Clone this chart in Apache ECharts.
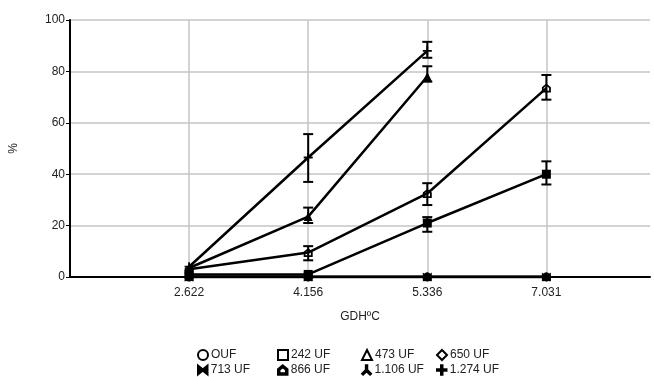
<!DOCTYPE html>
<html>
<head>
<meta charset="utf-8">
<script src="https://cdn.jsdelivr.net/npm/echarts@6/dist/echarts.min.js"></script>
<style>
  html, body { margin: 0; padding: 0; background: #fff; }
  #gdh-chart { width: 654px; height: 377px; }
</style>
</head>
<body>
<div id="gdh-chart"></div>
<script>
// categories on the x axis (placed at index 1..4)
const categories = ['2.622', '4.156', '5.336', '7.031']
const seriesNames = ['OUF', '242 UF', '473 UF', '650 UF', '713 UF', '866 UF', '1.106 UF', '1.274 UF']

// mean values per series, null = not measured
const valOUF = [0, 0, 0, 0]
const val242 = [1, 1, 21, 40]
const val473 = [3.5, 23.5, 78, null]
const val650 = [0, 0, 0, 0]
const val713 = [0, 0, 0, 0]
const val866 = [3, 9.5, 32.5, 73.5]
const val1106 = [0, 0, 0, 0]
const val1274 = [4, 46.5, 88, null]

// error bar limits [low, high] per point
const err242 = [null, null, [17.6, 23.3], [36, 45]]
const err473 = [null, [21, 27], [76, 82], null]
const err866 = [null, [6.5, 12], [28, 36.5], [69, 78.6]]
const err1274 = [null, [37, 55.6], [85.3, 91.5], null]

const yTicks = [0, 20, 40, 60, 80, 100]

const icons = {
  'OUF': 'emptyCircle',
  '242 UF': 'emptyRect',
  '473 UF': 'emptyTriangle',
  '650 UF': 'emptyDiamond',
  '713 UF': 'path://M0,0L0,10L5,6L10,10L10,0L5,4Z',
  '866 UF': 'path://M5,0L10,4L10,10L0,10L0,4ZM5,2.5L2,5L2,8L8,8L8,5Z',
  '1.106 UF': 'path://M4,0L6,0L6,5L10,9L8.6,10.4L5,7L1.4,10.4L0,9L4,5Z',
  '1.274 UF': 'path://M4,0H6V4H10V6H6V10H4V6H0V4H4Z'
}
const markers = {
  'OUF': 'circle',
  '242 UF': 'rect',
  '473 UF': 'triangle',
  '650 UF': 'diamond',
  '713 UF': icons['713 UF'],
  '866 UF': icons['866 UF'],
  '1.106 UF': icons['1.106 UF'],
  '1.274 UF': icons['1.274 UF']
}

const values = [valOUF, val242, val473, val650, val713, val866, val1106, val1274]
const errors = [err242, err473, err866, err1274]

function toPoints(arr) {
  return arr.map((v, i) => [i + 1, v])
}

const errData = []
errors.forEach(e => {
  e.forEach((r, i) => {
    if (r) errData.push([i + 1, r[0], r[1]])
  })
})

const chart = echarts.init(document.getElementById('gdh-chart'))

const lineSeries = seriesNames.map((name, k) => ({
  name: name,
  type: 'line',
  data: toPoints(values[k]),
  symbol: markers[name],
  symbolSize: 9,
  connectNulls: false,
  lineStyle: { color: '#000', width: 2.5 },
  itemStyle: { color: '#000' },
  z: 3
}))

lineSeries[0].markLine = {
  silent: true,
  symbol: 'none',
  label: { show: false },
  lineStyle: { color: '#c4c4c4', width: 1.5, type: 'solid' },
  data: categories.map((c, i) => ({ xAxis: i + 1 })),
  z: 1
}

// legend laid out as a 4 x 2 table
const legendCols = [197, 277, 361, 436]
const legendRows = [349, 364]

const legends = seriesNames.map((n, i) => ({
  data: [{ name: n, icon: icons[n] }],
  left: legendCols[i % 4],
  top: legendRows[Math.floor(i / 4)],
  itemWidth: 10,
  itemHeight: 10,
  itemGap: 0,
  padding: 0,
  selectedMode: false,
  itemStyle: { color: '#000', borderColor: '#000', borderWidth: 1.5 },
  textStyle: { color: '#222', fontSize: 12, padding: [0, 0, 0, -2] }
}))

const option = {
  animation: false,
  textStyle: { fontFamily: 'Liberation Sans, Arial, sans-serif' },
  grid: { left: 66, right: 4, top: 20, bottom: 100 },
  legend: legends,
  xAxis: {
    type: 'value',
    min: 0,
    max: 4.87,
    interval: 1,
    name: 'GDHºC',
    nameLocation: 'middle',
    nameGap: 34,
    nameTextStyle: { fontSize: 12, color: '#222' },
    axisLine: { lineStyle: { color: '#000', width: 2 } },
    axisTick: { show: false },
    splitLine: { show: false },
    axisLabel: {
      fontSize: 12,
      color: '#222',
      margin: 10,
      formatter: v => (Number.isInteger(v) && v >= 1 && v <= categories.length) ? categories[v - 1] : ''
    }
  },
  yAxis: {
    type: 'value',
    min: yTicks[0],
    max: yTicks[yTicks.length - 1],
    interval: 20,
    name: '%',
    nameLocation: 'middle',
    nameRotate: 90,
    nameGap: 50,
    nameTextStyle: { fontSize: 12, color: '#222' },
    axisLine: { show: true, lineStyle: { color: '#000', width: 2 } },
    axisTick: { show: true, length: 4, lineStyle: { color: '#000', width: 1 } },
    axisLabel: { fontSize: 12, color: '#222', margin: 5 },
    splitLine: { lineStyle: { color: '#c4c4c4', width: 1.5 } }
  },
  series: lineSeries.concat([{
    name: 'err',
    type: 'custom',
    data: errData,
    z: 4,
    renderItem: function (params, api) {
      const x = api.value(0)
      const lo = api.coord([x, api.value(1)])
      const hi = api.coord([x, api.value(2)])
      const w = 5
      const st = { stroke: '#000', lineWidth: 2 }
      return {
        type: 'group',
        children: [
          { type: 'line', shape: { x1: lo[0], y1: lo[1], x2: hi[0], y2: hi[1] }, style: st },
          { type: 'line', shape: { x1: lo[0] - w, y1: lo[1], x2: lo[0] + w, y2: lo[1] }, style: st },
          { type: 'line', shape: { x1: hi[0] - w, y1: hi[1], x2: hi[0] + w, y2: hi[1] }, style: st }
        ]
      }
    }
  }])
}

chart.setOption(option)
</script>
</body>
</html>
